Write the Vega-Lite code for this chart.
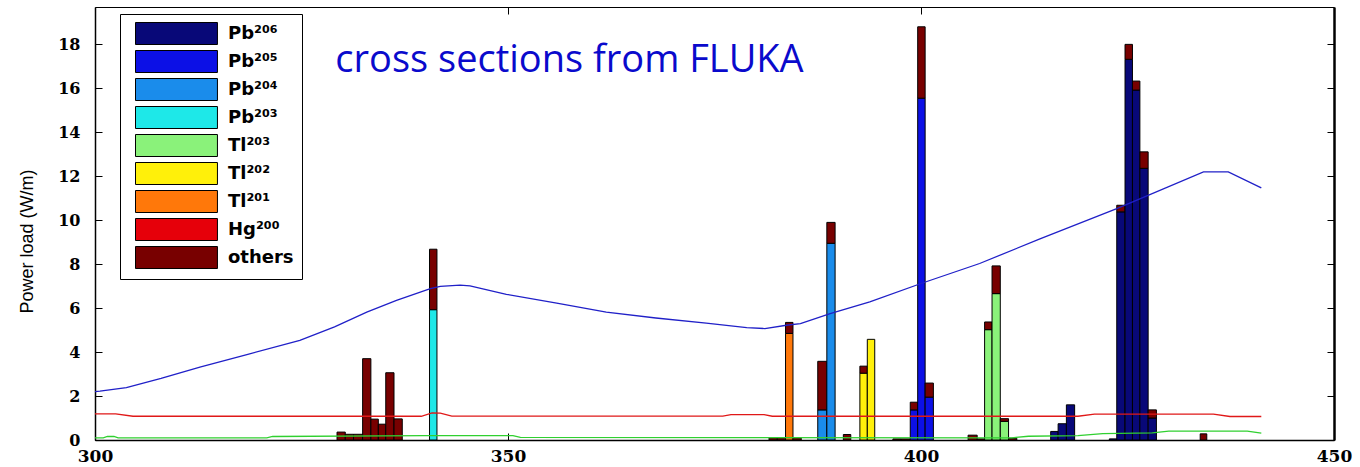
{
  "$schema": "https://vega.github.io/schema/vega-lite/v6.json",
  "width": 1239,
  "height": 433,
  "autosize": {"type": "none"},
  "padding": {"left": 95, "top": 7, "right": 26, "bottom": 27},
  "background": "white",
  "config": {
    "view": {"stroke": "black", "strokeWidth": 1},
    "axis": {
      "grid": false,
      "domainColor": "black",
      "tickColor": "black",
      "labelColor": "black",
      "titleColor": "black"
    }
  },
  "datasets": {
    "bars": [
      {"x0": 329.3, "x1": 330.3, "iso": "others", "k": 9, "v": 0.36},
      {"x0": 330.3, "x1": 331.3, "iso": "others", "k": 9, "v": 0.26},
      {"x0": 331.3, "x1": 332.4, "iso": "others", "k": 9, "v": 0.26},
      {"x0": 332.4, "x1": 333.4, "iso": "others", "k": 9, "v": 3.70},
      {"x0": 333.4, "x1": 334.3, "iso": "others", "k": 9, "v": 0.95},
      {"x0": 334.3, "x1": 335.2, "iso": "others", "k": 9, "v": 0.72},
      {"x0": 335.2, "x1": 336.2, "iso": "others", "k": 9, "v": 3.06},
      {"x0": 336.2, "x1": 337.2, "iso": "others", "k": 9, "v": 0.96},
      {"x0": 340.5, "x1": 341.4, "iso": "Pb²⁰³", "k": 4, "v": 5.93},
      {"x0": 340.5, "x1": 341.4, "iso": "others", "k": 9, "v": 2.75},
      {"x0": 381.6, "x1": 382.6, "iso": "others", "k": 9, "v": 0.10},
      {"x0": 382.6, "x1": 383.6, "iso": "others", "k": 9, "v": 0.10},
      {"x0": 383.6, "x1": 384.5, "iso": "Tl²⁰¹", "k": 7, "v": 4.85},
      {"x0": 383.6, "x1": 384.5, "iso": "others", "k": 9, "v": 0.50},
      {"x0": 384.5, "x1": 385.5, "iso": "others", "k": 9, "v": 0.10},
      {"x0": 387.5, "x1": 388.6, "iso": "Pb²⁰⁴", "k": 3, "v": 1.37},
      {"x0": 387.5, "x1": 388.6, "iso": "others", "k": 9, "v": 2.21},
      {"x0": 388.6, "x1": 389.6, "iso": "Pb²⁰⁴", "k": 3, "v": 8.95},
      {"x0": 388.6, "x1": 389.6, "iso": "others", "k": 9, "v": 0.95},
      {"x0": 390.6, "x1": 391.5, "iso": "others", "k": 9, "v": 0.25},
      {"x0": 392.6, "x1": 393.5, "iso": "Tl²⁰²", "k": 6, "v": 3.04},
      {"x0": 392.6, "x1": 393.5, "iso": "others", "k": 9, "v": 0.32},
      {"x0": 393.5, "x1": 394.4, "iso": "Tl²⁰²", "k": 6, "v": 4.58},
      {"x0": 396.6, "x1": 397.6, "iso": "others", "k": 9, "v": 0.05},
      {"x0": 397.6, "x1": 398.7, "iso": "others", "k": 9, "v": 0.05},
      {"x0": 398.7, "x1": 399.6, "iso": "Pb²⁰⁵", "k": 2, "v": 1.37},
      {"x0": 398.7, "x1": 399.6, "iso": "others", "k": 9, "v": 0.35},
      {"x0": 399.6, "x1": 400.5, "iso": "Pb²⁰⁵", "k": 2, "v": 15.55},
      {"x0": 399.6, "x1": 400.5, "iso": "others", "k": 9, "v": 3.25},
      {"x0": 400.5, "x1": 401.5, "iso": "Pb²⁰⁵", "k": 2, "v": 1.95},
      {"x0": 400.5, "x1": 401.5, "iso": "others", "k": 9, "v": 0.64},
      {"x0": 405.7, "x1": 406.8, "iso": "others", "k": 9, "v": 0.22},
      {"x0": 406.8, "x1": 407.7, "iso": "others", "k": 9, "v": 0.05},
      {"x0": 407.7, "x1": 408.6, "iso": "Tl²⁰³", "k": 5, "v": 5.02},
      {"x0": 407.7, "x1": 408.6, "iso": "others", "k": 9, "v": 0.35},
      {"x0": 408.6, "x1": 409.6, "iso": "Tl²⁰³", "k": 5, "v": 6.66},
      {"x0": 408.6, "x1": 409.6, "iso": "others", "k": 9, "v": 1.26},
      {"x0": 409.6, "x1": 410.6, "iso": "Tl²⁰³", "k": 5, "v": 0.85},
      {"x0": 409.6, "x1": 410.6, "iso": "others", "k": 9, "v": 0.12},
      {"x0": 410.6, "x1": 411.6, "iso": "others", "k": 9, "v": 0.08},
      {"x0": 415.7, "x1": 416.6, "iso": "Pb²⁰⁶", "k": 1, "v": 0.39},
      {"x0": 416.6, "x1": 417.6, "iso": "Pb²⁰⁶", "k": 1, "v": 0.74},
      {"x0": 417.6, "x1": 418.6, "iso": "Pb²⁰⁶", "k": 1, "v": 1.60},
      {"x0": 422.8, "x1": 423.7, "iso": "Pb²⁰⁶", "k": 1, "v": 0.05},
      {"x0": 423.7, "x1": 424.7, "iso": "Pb²⁰⁶", "k": 1, "v": 10.38},
      {"x0": 423.7, "x1": 424.7, "iso": "others", "k": 9, "v": 0.30},
      {"x0": 424.7, "x1": 425.6, "iso": "Pb²⁰⁶", "k": 1, "v": 17.32},
      {"x0": 424.7, "x1": 425.6, "iso": "others", "k": 9, "v": 0.68},
      {"x0": 425.6, "x1": 426.5, "iso": "Pb²⁰⁶", "k": 1, "v": 15.92},
      {"x0": 425.6, "x1": 426.5, "iso": "others", "k": 9, "v": 0.41},
      {"x0": 426.5, "x1": 427.5, "iso": "Pb²⁰⁶", "k": 1, "v": 12.36},
      {"x0": 426.5, "x1": 427.5, "iso": "others", "k": 9, "v": 0.75},
      {"x0": 427.5, "x1": 428.5, "iso": "Pb²⁰⁶", "k": 1, "v": 1.00},
      {"x0": 427.5, "x1": 428.5, "iso": "others", "k": 9, "v": 0.37},
      {"x0": 433.8, "x1": 434.6, "iso": "others", "k": 9, "v": 0.28}
    ],
    "curves": [
      {"series": "beam", "x": 300.0, "y": 2.20},
      {"series": "beam", "x": 300.6, "y": 2.22},
      {"series": "beam", "x": 303.8, "y": 2.38},
      {"series": "beam", "x": 308.0, "y": 2.80},
      {"series": "beam", "x": 312.7, "y": 3.32},
      {"series": "beam", "x": 318.5, "y": 3.90},
      {"series": "beam", "x": 324.8, "y": 4.53},
      {"series": "beam", "x": 329.0, "y": 5.15},
      {"series": "beam", "x": 332.9, "y": 5.82},
      {"series": "beam", "x": 336.5, "y": 6.35},
      {"series": "beam", "x": 340.6, "y": 6.89},
      {"series": "beam", "x": 341.8, "y": 6.99},
      {"series": "beam", "x": 344.2, "y": 7.05},
      {"series": "beam", "x": 345.4, "y": 7.01},
      {"series": "beam", "x": 349.8, "y": 6.63},
      {"series": "beam", "x": 355.9, "y": 6.23},
      {"series": "beam", "x": 361.9, "y": 5.82},
      {"series": "beam", "x": 367.9, "y": 5.55},
      {"series": "beam", "x": 374.0, "y": 5.32},
      {"series": "beam", "x": 378.9, "y": 5.11},
      {"series": "beam", "x": 381.1, "y": 5.07},
      {"series": "beam", "x": 383.7, "y": 5.22},
      {"series": "beam", "x": 385.4, "y": 5.29},
      {"series": "beam", "x": 389.0, "y": 5.75},
      {"series": "beam", "x": 393.8, "y": 6.28},
      {"series": "beam", "x": 400.0, "y": 7.12},
      {"series": "beam", "x": 407.1, "y": 8.03},
      {"series": "beam", "x": 414.4, "y": 9.15},
      {"series": "beam", "x": 423.7, "y": 10.53},
      {"series": "beam", "x": 434.2, "y": 12.20},
      {"series": "beam", "x": 437.2, "y": 12.20},
      {"series": "beam", "x": 441.2, "y": 11.47},
      {"series": "hg", "x": 300.0, "y": 1.19},
      {"series": "hg", "x": 302.5, "y": 1.19},
      {"series": "hg", "x": 304.6, "y": 1.08},
      {"series": "hg", "x": 339.5, "y": 1.08},
      {"series": "hg", "x": 340.8, "y": 1.23},
      {"series": "hg", "x": 341.8, "y": 1.22},
      {"series": "hg", "x": 343.2, "y": 1.09},
      {"series": "hg", "x": 376.0, "y": 1.09},
      {"series": "hg", "x": 377.0, "y": 1.15},
      {"series": "hg", "x": 381.0, "y": 1.15},
      {"series": "hg", "x": 382.0, "y": 1.08},
      {"series": "hg", "x": 419.0, "y": 1.08},
      {"series": "hg", "x": 421.0, "y": 1.18},
      {"series": "hg", "x": 435.4, "y": 1.18},
      {"series": "hg", "x": 437.4, "y": 1.07},
      {"series": "hg", "x": 441.2, "y": 1.07},
      {"series": "tl", "x": 300.0, "y": 0.10},
      {"series": "tl", "x": 301.0, "y": 0.10},
      {"series": "tl", "x": 301.5, "y": 0.16},
      {"series": "tl", "x": 302.3, "y": 0.16},
      {"series": "tl", "x": 302.8, "y": 0.10},
      {"series": "tl", "x": 320.8, "y": 0.10},
      {"series": "tl", "x": 321.5, "y": 0.16},
      {"series": "tl", "x": 340.0, "y": 0.20},
      {"series": "tl", "x": 350.6, "y": 0.20},
      {"series": "tl", "x": 351.5, "y": 0.12},
      {"series": "tl", "x": 411.0, "y": 0.10},
      {"series": "tl", "x": 413.0, "y": 0.17},
      {"series": "tl", "x": 419.0, "y": 0.20},
      {"series": "tl", "x": 422.0, "y": 0.29},
      {"series": "tl", "x": 428.0, "y": 0.32},
      {"series": "tl", "x": 430.0, "y": 0.40},
      {"series": "tl", "x": 439.5, "y": 0.40},
      {"series": "tl", "x": 441.2, "y": 0.31}
    ]
  },
  "layer": [
    {
      "data": {"name": "bars"},
      "transform": [
        {"stack": "v", "groupby": ["x0", "x1"], "sort": [{"field": "k", "order": "ascending"}], "as": ["lo", "hi"]}
      ],
      "mark": {"type": "bar", "stroke": "black", "strokeWidth": 1},
      "encoding": {
        "x": {
          "field": "x0",
          "type": "quantitative",
          "scale": {"domain": [300, 450], "nice": false, "zero": false},
          "axis": {
            "orient": "bottom",
            "values": [300, 350, 400, 450],
            "title": null,
            "domainWidth": 1.5,
            "tickSize": -7,
            "labelPadding": 15,
            "labelFont": "DejaVu Serif",
            "labelFontWeight": "bold",
            "labelFontSize": 17,
            "labelFlush": false
          }
        },
        "x2": {"field": "x1"},
        "y": {
          "field": "lo",
          "type": "quantitative",
          "scale": {"domain": [0, 19.7], "nice": false},
          "axis": {
            "orient": "left",
            "values": [0, 2, 4, 6, 8, 10, 12, 14, 16, 18],
            "title": "Power load (W/m)",
            "titleFont": "Liberation Sans Narrow, Liberation Sans",
            "titleFontSize": 18,
            "titleFontWeight": "normal",
            "titleAngle": -90,
            "titleAlign": "center",
            "titleBaseline": "middle",
            "titleX": -68,
            "titleY": 234,
            "domainWidth": 1.5,
            "tickSize": -7,
            "labelPadding": 22,
            "labelFont": "DejaVu Serif",
            "labelFontWeight": "bold",
            "labelFontSize": 16,
            "labelFlush": false
          }
        },
        "y2": {"field": "hi"},
        "color": {
          "field": "iso",
          "type": "nominal",
          "scale": {
            "domain": ["Pb²⁰⁶", "Pb²⁰⁵", "Pb²⁰⁴", "Pb²⁰³", "Tl²⁰³", "Tl²⁰²", "Tl²⁰¹", "Hg²⁰⁰", "others"],
            "range": ["#080878", "#0c10e6", "#1a8ceb", "#1ee8e8", "#8af27a", "#fff00a", "#ff780a", "#e6000a", "#780000"]
          },
          "legend": {
            "orient": "none",
            "legendX": 25,
            "legendY": 7,
            "title": null,
            "padding": 8,
            "strokeColor": "black",
            "fillColor": "white",
            "symbolType": "M-1,-1L6.45,-1L6.45,1L-1,1Z",
            "symbolSize": 484,
            "symbolStrokeColor": "black",
            "symbolStrokeWidth": 1,
            "symbolOpacity": 1,
            "symbolOffset": 7,
            "labelOffset": 70,
            "labelFont": "DejaVu Sans",
            "labelFontWeight": "bold",
            "labelFontSize": 18,
            "labelColor": "black",
            "rowPadding": 1
          }
        }
      }
    },
    {
      "data": {"name": "curves"},
      "mark": {"type": "line", "strokeWidth": 1.3},
      "encoding": {
        "x": {
          "field": "x",
          "type": "quantitative",
          "axis": {
            "orient": "top",
            "values": [350, 400],
            "labels": false,
            "title": null,
            "domain": false,
            "tickSize": -7
          }
        },
        "y": {
          "field": "y",
          "type": "quantitative",
          "axis": {
            "orient": "right",
            "values": [2, 4, 6, 8, 10, 12, 14, 16, 18],
            "labels": false,
            "title": null,
            "domainWidth": 2.5,
            "tickSize": -7
          }
        },
        "stroke": {
          "field": "series",
          "type": "nominal",
          "scale": {"domain": ["beam", "hg", "tl"], "range": ["#2020c8", "#e01818", "#30d030"]},
          "legend": null
        }
      }
    },
    {
      "data": {"values": [{}]},
      "mark": {
        "type": "text",
        "text": "cross sections from FLUKA",
        "font": "Open Sans",
        "fontSize": 38,
        "color": "#0a0acc",
        "align": "left",
        "baseline": "alphabetic"
      },
      "encoding": {
        "x": {"datum": 329.1, "type": "quantitative", "axis": null},
        "y": {"datum": 16.75, "type": "quantitative", "axis": null}
      }
    }
  ],
  "resolve": {"axis": {"x": "independent", "y": "independent"}}
}
